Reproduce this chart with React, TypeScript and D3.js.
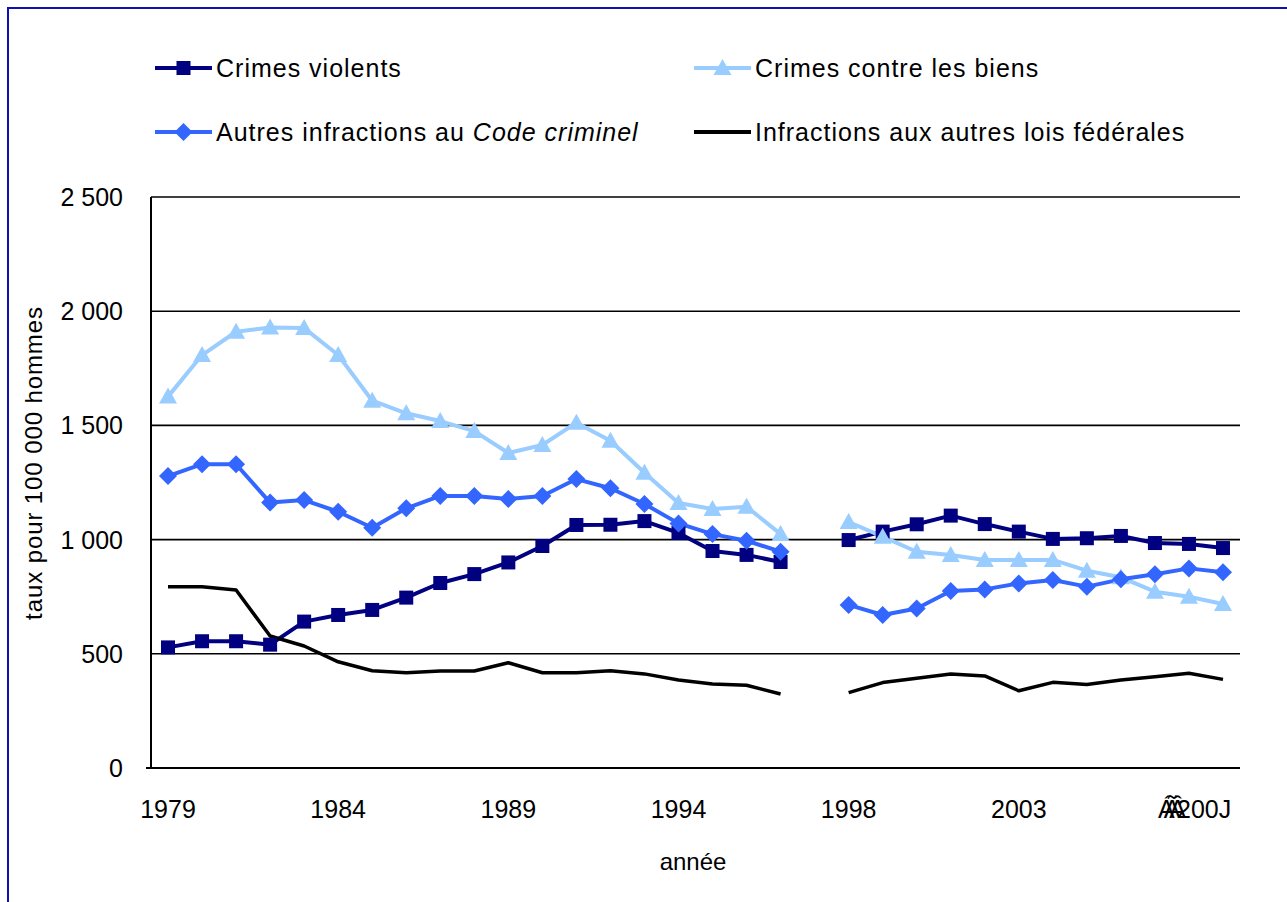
import React from "react";
import * as d3 from "d3";

// Categories: 1979–1997, one empty slot for the break, then 1998–2009
const categories: string[] = [
  "1979", "1980", "1981", "1982", "1983", "1984", "1985", "1986", "1987", "1988",
  "1989", "1990", "1991", "1992", "1993", "1994", "1995", "1996", "1997",
  "",
  "1998", "1999", "2000", "2001", "2002", "2003", "2004", "2005", "2006", "2007", "2008", "2009",
];

// Rates per 100 000 men
const crimesViolents: (number | null)[] = [
  528, 555, 555, 540, 641, 670, 692, 746, 810, 849, 900, 972, 1064, 1065, 1081, 1029, 950, 933, 902,
  null,
  998, 1035, 1067, 1105, 1068, 1035, 1003, 1006, 1016, 985, 981, 963,
];
const crimesBiens: (number | null)[] = [
  1626, 1808, 1910, 1929, 1926, 1808, 1608, 1553, 1519, 1475, 1379, 1414, 1512, 1433, 1293, 1160, 1134, 1144, 1024,
  null,
  1077, 1013, 947, 933, 911, 911, 911, 864, 835, 772, 750, 718,
];
const autresCode: (number | null)[] = [
  1278, 1330, 1330, 1162, 1173, 1122, 1052, 1137, 1191, 1191, 1178, 1191, 1265, 1225, 1156, 1071, 1024, 995, 947,
  null,
  714, 670, 698, 775, 782, 808, 823, 794, 826, 848, 874, 857,
];
const autresLois: (number | null)[] = [
  794, 794, 779, 578, 534, 465, 426, 417, 425, 425, 461, 417, 417, 426, 412, 385, 368, 362, 324,
  null,
  330, 374, 393, 412, 403, 338, 375, 366, 385, 400, 415, 388,
];

const yTicks: number[] = [0, 500, 1000, 1500, 2000, 2500];
const yTickLabels: string[] = ["0", "500", "1 000", "1 500", "2 000", "2 500"];
const xTickIndexes: number[] = [0, 5, 10, 15, 20, 25, 30];

const FONT = "'Liberation Sans', Arial, sans-serif";

type Marker = "square" | "triangle" | "diamond" | "none";

interface SeriesDef {
  key: string;
  values: (number | null)[];
  color: string;
  marker: Marker;
}

const series: SeriesDef[] = [
  { key: "violents", values: crimesViolents, color: "#000080", marker: "square" },
  { key: "biens", values: crimesBiens, color: "#99CCFF", marker: "triangle" },
  { key: "code", values: autresCode, color: "#3366FF", marker: "diamond" },
  { key: "lois", values: autresLois, color: "#000000", marker: "none" },
];

function markerShape(m: Marker, x: number, y: number, color: string, key: string) {
  if (m === "square") {
    return <rect key={key} x={x - 7} y={y - 7} width={14} height={14} fill={color} />;
  }
  if (m === "triangle") {
    const p = `${x},${y - 9} ${x + 9},${y + 7} ${x - 9},${y + 7}`;
    return <polygon key={key} points={p} fill={color} />;
  }
  if (m === "diamond") {
    const p = `${x},${y - 9} ${x + 9},${y} ${x},${y + 9} ${x - 9},${y}`;
    return <polygon key={key} points={p} fill={color} />;
  }
  return null;
}

export default function App() {
  const W = 1287;
  const H = 902;
  const left = 151;
  const right = 1240;
  const top = 197;
  const bottom = 768;

  const x = d3
    .scaleBand<number>()
    .domain(categories.map((_, i) => i))
    .range([left, right])
    .paddingInner(0)
    .paddingOuter(0);
  const cx = (i: number) => (x(i) as number) + x.bandwidth() / 2;
  const y = d3.scaleLinear().domain([0, 2500]).range([bottom, top]);

  const line = d3
    .line<number | null>()
    .defined((d) => d != null)
    .x((_, i) => cx(i))
    .y((d) => y(d as number));

  const legendItems = [
    { s: series[0], lx: 155, ly: 68 },
    { s: series[1], lx: 694, ly: 68 },
    { s: series[2], lx: 155, ly: 132 },
    { s: series[3], lx: 694, ly: 132 },
  ];

  const renderLegendLabel = (key: string) => {
    if (key === "violents") return <tspan>Crimes violents</tspan>;
    if (key === "biens") return <tspan>Crimes contre les biens</tspan>;
    if (key === "code")
      return (
        <>
          <tspan>Autres infractions au </tspan>
          <tspan fontStyle="italic">Code criminel</tspan>
        </>
      );
    return <tspan>Infractions aux autres lois fédérales</tspan>;
  };

  return (
    <svg
      width={W}
      height={H}
      style={{ position: "absolute", left: 0, top: 0, background: "#fff" }}
      fontFamily={FONT}
    >
      {/* outer frame */}
      <rect x={8} y={8} width={1400} height={1000} fill="#fff" stroke="#1010B0" strokeWidth={2} />

      {/* gridlines */}
      {yTicks.map((t) => (
        <line key={t} x1={left} x2={right} y1={y(t)} y2={y(t)} stroke="#000" strokeWidth={1.6} />
      ))}
      {/* axes */}
      <line x1={left} x2={left} y1={top} y2={bottom} stroke="#000" strokeWidth={2} />
      <line x1={left - 5} x2={right} y1={bottom} y2={bottom} stroke="#000" strokeWidth={2} />

      {/* y tick labels */}
      {yTicks.map((t, i) => (
        <text
          key={t}
          x={123}
          y={y(t)}
          dy="0.36em"
          textAnchor="end"
          fontSize={25}
          fill="#000"
        >
          {yTickLabels[i]}
        </text>
      ))}

      {/* x tick labels */}
      {xTickIndexes.map((i) =>
        i === 30 ? (
          <text key={i} x={cx(i) - 31} y={818} fontSize={25} fill="#000">
            <tspan>Á</tspan>
            <tspan dx={-11}>Ã</tspan>
            <tspan dx={-11}>Â</tspan>
            <tspan dx={-9}>200J</tspan>
          </text>
        ) : (
          <text key={i} x={cx(i)} y={818} textAnchor="middle" fontSize={25} fill="#000">
            {categories[i]}
          </text>
        )
      )}

      {/* axis titles */}
      <text x={693} y={870} textAnchor="middle" fontSize={24} fill="#000">
        année
      </text>
      <text
        transform="translate(42,463) rotate(-90)"
        textAnchor="middle"
        fontSize={24}
        letterSpacing={0.9}
        fill="#000"
      >
        taux pour 100 000 hommes
      </text>

      {/* series lines */}
      {series.map((s) => (
        <path
          key={s.key}
          d={line(s.values) || ""}
          fill="none"
          stroke={s.color}
          strokeWidth={s.marker === "none" ? 3.5 : 4}
          strokeLinejoin="round"
        />
      ))}
      {/* markers */}
      {series.map((s) => (
        <g key={s.key + "-m"}>
          {s.values.map((v, i) =>
            v == null ? null : markerShape(s.marker, cx(i), y(v), s.color, `${s.key}-${i}`)
          )}
        </g>
      ))}

      {/* legend */}
      {legendItems.map(({ s, lx, ly }) => (
        <g key={s.key + "-legend"}>
          <line x1={lx} x2={lx + 57} y1={ly} y2={ly} stroke={s.color} strokeWidth={4} />
          {markerShape(s.marker, lx + 28.5, ly, s.color, s.key + "-lm")}
          <text x={lx + 61} y={ly} dy="0.36em" fontSize={25} letterSpacing={1.0} fill="#000">
            {renderLegendLabel(s.key)}
          </text>
        </g>
      ))}
    </svg>
  );
}
